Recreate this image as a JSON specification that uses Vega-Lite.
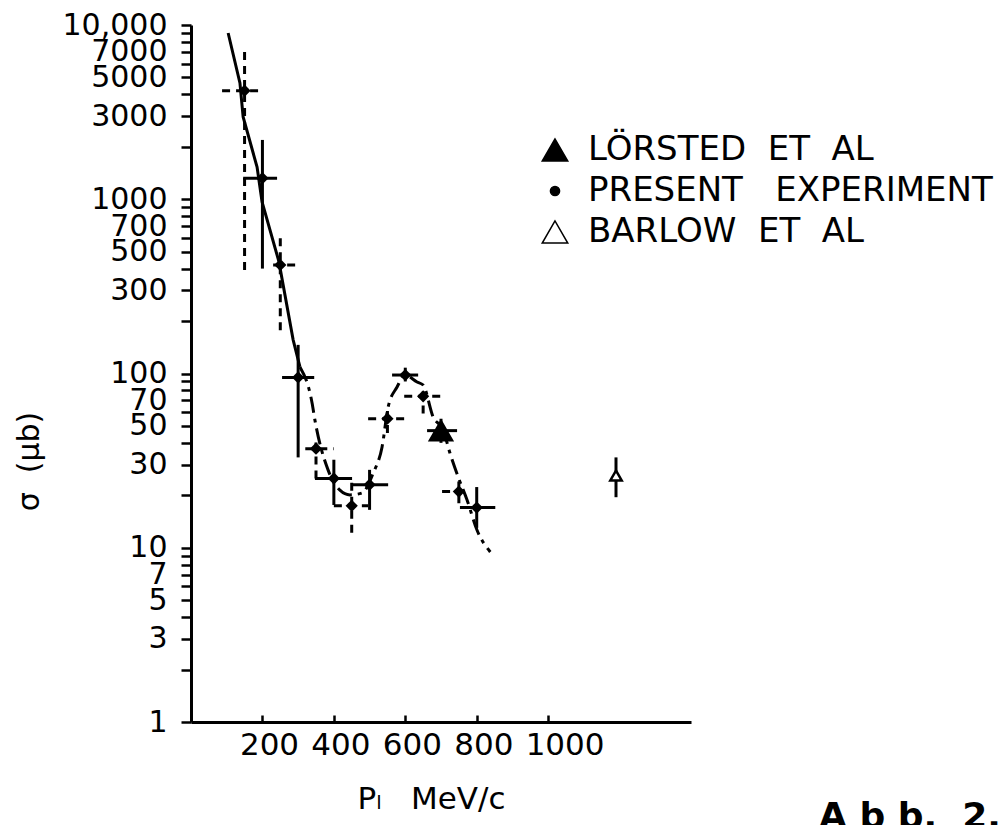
{
  "$schema": "https://vega.github.io/schema/vega-lite/v6.json",
  "width": 500,
  "height": 697,
  "autosize": {"type": "none"},
  "padding": {"left": 191, "top": 25, "right": 307, "bottom": 103},
  "background": "white",
  "title": {
    "text": "A b b.\u00a0\u00a02.2",
    "orient": "bottom",
    "anchor": "start",
    "frame": "group",
    "dx": 628,
    "offset": -14,
    "font": "DejaVu Sans",
    "fontSize": 36,
    "fontWeight": "bold",
    "color": "black"
  },
  "config": {
    "view": {"stroke": null},
    "axis": {
      "domainColor": "black",
      "domainWidth": 3,
      "tickColor": "black",
      "tickWidth": 2.5,
      "labelColor": "black",
      "titleColor": "black",
      "labelFont": "DejaVu Sans",
      "titleFont": "DejaVu Sans",
      "grid": false
    },
    "legend": {
      "labelFont": "DejaVu Sans",
      "labelFontSize": 34,
      "labelColor": "black",
      "labelLimit": 700
    }
  },
  "datasets": {
    "pts": [
      {"series": "PRESENT EXPERIMENT", "run": "A", "p": 150, "sigma": 4200, "plo": 87, "phi": 199, "slo": 393, "shi": 7480},
      {"series": "PRESENT EXPERIMENT", "run": "B", "p": 200, "sigma": 1320, "plo": 146, "phi": 241, "slo": 400, "shi": 2190},
      {"series": "PRESENT EXPERIMENT", "run": "A", "p": 250, "sigma": 420, "plo": 230, "phi": 297, "slo": 177, "shi": 620},
      {"series": "PRESENT EXPERIMENT", "run": "B", "p": 300, "sigma": 95, "plo": 255, "phi": 345, "slo": 33, "shi": 146},
      {"series": "PRESENT EXPERIMENT", "run": "A", "p": 350, "sigma": 37, "plo": 320, "phi": 400, "slo": 25, "shi": 43},
      {"series": "PRESENT EXPERIMENT", "run": "B", "p": 400, "sigma": 25, "plo": 347, "phi": 451, "slo": 17.6, "shi": 32},
      {"series": "PRESENT EXPERIMENT", "run": "A", "p": 450, "sigma": 17.4, "plo": 400, "phi": 496, "slo": 12.2, "shi": 23.8},
      {"series": "PRESENT EXPERIMENT", "run": "B", "p": 500, "sigma": 23, "plo": 451, "phi": 552, "slo": 16.5, "shi": 28},
      {"series": "PRESENT EXPERIMENT", "run": "A", "p": 550, "sigma": 55, "plo": 496, "phi": 602, "slo": 45.6, "shi": 64},
      {"series": "PRESENT EXPERIMENT", "run": "B", "p": 600, "sigma": 98, "plo": 563, "phi": 636, "slo": 90, "shi": 108},
      {"series": "PRESENT EXPERIMENT", "run": "A", "p": 650, "sigma": 74, "plo": 597, "phi": 706, "slo": 59, "shi": 80},
      {"series": "LÖRSTED ET AL", "run": "B", "p": 700, "sigma": 47, "plo": 661, "phi": 745, "slo": 40, "shi": 55},
      {"series": "PRESENT EXPERIMENT", "run": "A", "p": 750, "sigma": 21, "plo": 703, "phi": 779, "slo": 18, "shi": 24},
      {"series": "PRESENT EXPERIMENT", "run": "B", "p": 800, "sigma": 17, "plo": 753, "phi": 852, "slo": 13, "shi": 22.3},
      {"series": "BARLOW ET AL", "run": "B", "p": 1190, "sigma": 26, "plo": null, "phi": null, "slo": 19.5, "shi": 33}
    ],
    "curve": [
      {"part": "upper", "p": 104, "sigma": 9000},
      {"part": "upper", "p": 137, "sigma": 4650},
      {"part": "upper", "p": 146, "sigma": 2965},
      {"part": "upper", "p": 185, "sigma": 1531},
      {"part": "upper", "p": 199, "sigma": 964},
      {"part": "upper", "p": 246, "sigma": 440},
      {"part": "upper", "p": 286, "sigma": 156},
      {"part": "upper", "p": 305, "sigma": 109},
      {"part": "lower", "p": 305, "sigma": 109},
      {"part": "lower", "p": 339, "sigma": 67.7},
      {"part": "lower", "p": 347, "sigma": 54},
      {"part": "lower", "p": 384, "sigma": 27.9},
      {"part": "lower", "p": 417, "sigma": 21.4},
      {"part": "lower", "p": 445, "sigma": 20.1},
      {"part": "lower", "p": 479, "sigma": 20.6},
      {"part": "lower", "p": 510, "sigma": 26.8},
      {"part": "lower", "p": 535, "sigma": 37.9},
      {"part": "lower", "p": 552, "sigma": 64.2},
      {"part": "lower", "p": 577, "sigma": 83.7},
      {"part": "lower", "p": 599, "sigma": 98},
      {"part": "lower", "p": 633, "sigma": 89.4},
      {"part": "lower", "p": 650, "sigma": 85.9},
      {"part": "lower", "p": 678, "sigma": 56.3},
      {"part": "lower", "p": 706, "sigma": 47.4},
      {"part": "lower", "p": 725, "sigma": 35},
      {"part": "lower", "p": 748, "sigma": 25.5},
      {"part": "lower", "p": 773, "sigma": 18.8},
      {"part": "lower", "p": 801, "sigma": 12.6},
      {"part": "lower", "p": 838, "sigma": 9.46}
    ]
  },
  "encoding": {
    "x": {
      "type": "quantitative",
      "scale": {"domain": [0, 1400], "nice": false, "zero": false},
      "axis": {
        "values": [200, 400, 600, 800, 1000],
        "format": "d",
        "labelOverlap": false,
        "labelFontSize": 31,
        "labelPadding": 15,
        "labelAlign": "left",
        "labelOffset": -23,
        "tickSize": -7,
        "title": "P\u2097\u00a0\u00a0\u00a0MeV/c",
        "titleFontSize": 31,
        "titleFontWeight": "normal",
        "titleX": 240,
        "titleY": 62,
        "titleAlign": "center",
        "titleBaseline": "top"
      }
    },
    "y": {
      "type": "quantitative",
      "scale": {"type": "log", "domain": [1, 10000], "nice": false},
      "axis": {
        "values": [1, 2, 3, 4, 5, 6, 7, 8, 9, 10, 20, 30, 40, 50, 60, 70, 80, 90, 100, 200, 300, 400, 500, 600, 700, 800, 900, 1000, 2000, 3000, 4000, 5000, 6000, 7000, 8000, 9000, 10000],
        "labelExpr": "datum.value == 10000 ? '10,000' : (indexof([1,3,5,7,10,30,50,70,100,300,500,700,1000,3000,5000,7000], datum.value) >= 0 ? format(datum.value, 'd') : '')",
        "labelFontSize": 30,
        "labelOverlap": false,
        "labelBound": false,
        "labelPadding": 14,
        "tickSize": 10,
        "title": "σ\u00a0\u00a0(μb)",
        "titleFontSize": 30,
        "titleFontWeight": "normal",
        "titleX": -162,
        "titleY": 436,
        "titleAngle": 270,
        "titleAlign": "center",
        "titleBaseline": "middle"
      }
    }
  },
  "layer": [
    {
      "data": {"name": "curve"},
      "transform": [{"filter": "datum.part == 'upper'"}],
      "mark": {"type": "line", "color": "black", "strokeWidth": 3, "interpolate": "linear"},
      "encoding": {"x": {"field": "p"}, "y": {"field": "sigma"}}
    },
    {
      "data": {"name": "curve"},
      "transform": [{"filter": "datum.part == 'lower'"}],
      "mark": {"type": "line", "color": "black", "strokeWidth": 3, "interpolate": "monotone", "strokeDash": [16, 6, 4, 6]},
      "encoding": {"x": {"field": "p"}, "y": {"field": "sigma"}}
    },
    {
      "data": {"name": "pts"},
      "transform": [{"filter": "datum.plo != null && datum.run == 'A'"}],
      "mark": {"type": "rule", "color": "black", "strokeWidth": 3, "strokeDash": [8, 6]},
      "encoding": {"x": {"field": "plo"}, "x2": {"field": "phi"}, "y": {"field": "sigma"}}
    },
    {
      "data": {"name": "pts"},
      "transform": [{"filter": "datum.plo != null && datum.run == 'B'"}],
      "mark": {"type": "rule", "color": "black", "strokeWidth": 3},
      "encoding": {"x": {"field": "plo"}, "x2": {"field": "phi"}, "y": {"field": "sigma"}}
    },
    {
      "data": {"name": "pts"},
      "transform": [{"filter": "datum.run == 'A'"}],
      "mark": {"type": "rule", "color": "black", "strokeWidth": 3, "strokeDash": [8, 6]},
      "encoding": {"x": {"field": "p"}, "y": {"field": "slo"}, "y2": {"field": "shi"}}
    },
    {
      "data": {"name": "pts"},
      "transform": [{"filter": "datum.run == 'B'"}],
      "mark": {"type": "rule", "color": "black", "strokeWidth": 3},
      "encoding": {"x": {"field": "p"}, "y": {"field": "slo"}, "y2": {"field": "shi"}}
    },
    {
      "data": {"name": "pts"},
      "transform": [{"filter": "datum.series == 'PRESENT EXPERIMENT'"}],
      "mark": {"type": "point", "shape": "diamond", "filled": true, "color": "black", "opacity": 1, "size": 150},
      "encoding": {"x": {"field": "p"}, "y": {"field": "sigma"}}
    },
    {
      "data": {"name": "pts"},
      "transform": [{"filter": "datum.series == 'LÖRSTED ET AL'"}],
      "mark": {"type": "point", "filled": true, "stroke": "black", "strokeWidth": 2, "opacity": 1, "size": 520},
      "encoding": {
        "x": {"field": "p"},
        "y": {"field": "sigma"},
        "shape": {
          "field": "series",
          "type": "nominal",
          "scale": {"domain": ["LÖRSTED ET AL", "PRESENT EXPERIMENT", "BARLOW ET AL"], "range": ["triangle-up", "M -0.36 0 A 0.36 0.36 0 1 0 0.36 0 A 0.36 0.36 0 1 0 -0.36 0 Z", "triangle-up"]},
          "legend": {
            "orient": "none",
            "legendX": 347,
            "legendY": 108,
            "title": null,
            "padding": 0,
            "rowPadding": 7,
            "labelOffset": 16,
            "symbolSize": 650,
            "labelExpr": "datum.label == 'PRESENT EXPERIMENT' ? 'PRESENT\u00a0\u00a0\u00a0EXPERIMENT' : replace(datum.label, regexp(' ', 'g'), '\u00a0\u00a0')",
            "encode": {"symbols": {
              "stroke": {"value": "black"},
              "strokeWidth": {"value": 2.5},
              "opacity": {"value": 1}
            }}
          }
        },
        "fill": {
          "field": "series",
          "type": "nominal",
          "scale": {"domain": ["LÖRSTED ET AL", "PRESENT EXPERIMENT", "BARLOW ET AL"], "range": ["black", "black", "white"]},
          "legend": {
            "orient": "none",
            "legendX": 347,
            "legendY": 108,
            "title": null,
            "padding": 0,
            "rowPadding": 7,
            "labelOffset": 16,
            "symbolSize": 650,
            "labelExpr": "datum.label == 'PRESENT EXPERIMENT' ? 'PRESENT\u00a0\u00a0\u00a0EXPERIMENT' : replace(datum.label, regexp(' ', 'g'), '\u00a0\u00a0')",
            "encode": {"symbols": {
              "stroke": {"value": "black"},
              "strokeWidth": {"value": 2.5},
              "opacity": {"value": 1}
            }}
          }
        }
      }
    },
    {
      "data": {"name": "pts"},
      "transform": [{"filter": "datum.series == 'BARLOW ET AL'"}],
      "mark": {"type": "point", "filled": true, "stroke": "black", "strokeWidth": 2.5, "opacity": 1, "size": 130},
      "encoding": {
        "x": {"field": "p"},
        "y": {"field": "sigma"},
        "shape": {"field": "series", "type": "nominal"},
        "fill": {"field": "series", "type": "nominal"}
      }
    }
  ]
}
